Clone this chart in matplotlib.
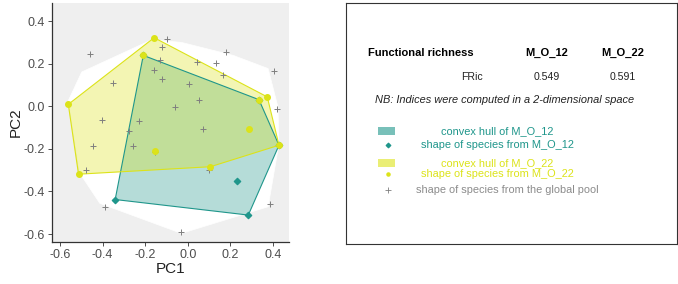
import numpy as np
import matplotlib.pyplot as plt
from matplotlib.patches import Polygon, Rectangle

plt.rcParams['font.family'] = ['Liberation Sans', 'DejaVu Sans']

# species of the global pool (crosses)
pool_x = [-0.459, -0.100, -0.120, 0.181, 0.403, 0.041, 0.131, -0.131, -0.158, -0.120,
          -0.350, 0.005, 0.163, 0.053, -0.059, 0.419, -0.402, -0.228, 0.069, -0.275,
          -0.444, -0.259, -0.480, -0.389, -0.033, 0.384, -0.155, 0.100]
pool_y = [0.247, 0.314, 0.278, 0.255, 0.166, 0.208, 0.205, 0.219, 0.172, 0.130,
          0.109, 0.103, 0.145, 0.028, -0.003, -0.011, -0.066, -0.070, -0.108, -0.116,
          -0.186, -0.186, -0.300, -0.472, -0.589, -0.459, -0.215, -0.300]

# hull of the global pool (white area)
pool_hull_x = [-0.170, -0.030, 0.213, 0.377, 0.423, 0.428, 0.377, -0.030, -0.413, -0.506, -0.560, -0.498]
pool_hull_y = [0.312, 0.300, 0.239, 0.177, -0.003, -0.175, -0.472, -0.597, -0.456, -0.316, 0.028, 0.161]

# assemblage M_O_12
m12_hull_x = [-0.209, 0.334, 0.428, 0.284, -0.341]
m12_hull_y = [0.239, 0.031, -0.183, -0.511, -0.438]
m12_x = [-0.209, 0.334, 0.428, 0.284, -0.341, 0.231]
m12_y = [0.239, 0.031, -0.183, -0.511, -0.438, -0.350]

# assemblage M_O_22
m22_hull_x = [-0.158, 0.373, 0.428, 0.106, -0.513, -0.561]
m22_hull_y = [0.322, 0.044, -0.183, -0.284, -0.319, 0.009]
m22_x = [-0.158, 0.373, 0.428, 0.106, -0.513, -0.561, -0.209, 0.334, 0.288, -0.155]
m22_y = [0.322, 0.044, -0.183, -0.284, -0.319, 0.009, 0.239, 0.031, -0.105, -0.209]

fric_names = ["M_O_12", "M_O_22"]
fric_values = ["0.549", "0.591"]

teal = "#1F968B"
yellow = "#DCE319"
grey_txt = "#4D4D4D"

fig = plt.figure(figsize=(6.78, 2.84), dpi=100)

# ---- convex hull plot ----
ax = fig.add_axes([52/678, (284-242)/284, (289-52)/678, (242-3)/284])
ax.set_facecolor("#EFEFEF")
ax.add_patch(Polygon(np.column_stack([pool_hull_x, pool_hull_y]), closed=True,
                     facecolor="white", edgecolor="white", lw=0.5, zorder=1))
ax.add_patch(Polygon(np.column_stack([m12_hull_x, m12_hull_y]), closed=True,
                     facecolor=teal, alpha=0.33, edgecolor="none", zorder=2))
ax.add_patch(Polygon(np.column_stack([m12_hull_x, m12_hull_y]), closed=True,
                     facecolor="none", edgecolor=teal, lw=0.8, zorder=3))
ax.add_patch(Polygon(np.column_stack([m22_hull_x, m22_hull_y]), closed=True,
                     facecolor=yellow, alpha=0.33, edgecolor="none", zorder=2))
ax.add_patch(Polygon(np.column_stack([m22_hull_x, m22_hull_y]), closed=True,
                     facecolor="none", edgecolor=yellow, lw=0.8, zorder=3))
ax.scatter(pool_x, pool_y, marker="+", s=18, color="#7F7F7F", linewidths=0.7, zorder=4)
ax.scatter(m12_x, m12_y, marker="D", s=10, color=teal, zorder=5)
ax.scatter(m22_x, m22_y, marker="o", s=16, color=yellow, zorder=6)

ax.set_xlim(-0.6375, 0.475)
ax.set_ylim(-0.6375, 0.485)
ax.set_xticks([-0.6, -0.4, -0.2, 0.0, 0.2, 0.4])
ax.set_yticks([-0.6, -0.4, -0.2, 0.0, 0.2, 0.4])
ax.set_xticklabels(["-0.6", "-0.4", "-0.2", "0.0", "0.2", "0.4"])
ax.set_yticklabels(["-0.6", "-0.4", "-0.2", "0.0", "0.2", "0.4"])
ax.tick_params(labelsize=9, labelcolor=grey_txt, color="#333333", length=3, width=0.6, pad=2)
for s in ["top", "right"]:
    ax.spines[s].set_visible(False)
for s in ["left", "bottom"]:
    ax.spines[s].set_color("#333333")
    ax.spines[s].set_linewidth(0.9)
ax.set_xlabel("PC1", fontsize=11, color="#222222", labelpad=1)
ax.set_ylabel("PC2", fontsize=11, color="#222222", labelpad=1)

# ---- results box ----
bx = fig.add_axes([346/678, (284-244)/284, (677-346)/678, (244-3)/284])
bx.set_xlim(346, 677)
bx.set_ylim(244, 3)
bx.set_xticks([])
bx.set_yticks([])
for s in bx.spines.values():
    s.set_color("#333333")
    s.set_linewidth(0.8)

bx.text(368, 53, "Functional richness", fontsize=8, fontweight="bold", va="center", ha="left")
bx.text(472, 77, "FRic", fontsize=7.6, va="center", ha="center", color="#222222")
for xc, name, val in zip([547, 623], fric_names, fric_values):
    bx.text(xc, 53, name, fontsize=8, fontweight="bold", va="center", ha="center")
    bx.text(xc, 77, val, fontsize=7.6, va="center", ha="center", color="#222222")
bx.text(505, 100, "NB: Indices were computed in a 2-dimensional space", fontsize=7.9,
        style="italic", va="center", ha="center", color="#222222")

bx.add_patch(Rectangle((378, 127), 17, 8, facecolor=teal, alpha=0.6, edgecolor="none"))
bx.text(497, 131, "convex hull of M_O_12", fontsize=7.9, color=teal, va="center", ha="center")
bx.scatter([388], [145], marker="D", s=5, color=teal)
bx.text(497, 145, "shape of species from M_O_12", fontsize=7.9, color=teal, va="center", ha="center")

bx.add_patch(Rectangle((378, 159), 17, 8, facecolor=yellow, alpha=0.6, edgecolor="none"))
bx.text(497, 163, "convex hull of M_O_22", fontsize=7.9, color=yellow, va="center", ha="center")
bx.scatter([388], [174], marker="o", s=5, color=yellow)
bx.text(497, 174, "shape of species from M_O_22", fontsize=7.9, color=yellow, va="center", ha="center")

bx.scatter([388], [190], marker="+", s=14, color="#7F7F7F", linewidths=0.6)
bx.text(507, 190, "shape of species from the global pool", fontsize=7.9, color="#8C8C8C",
        va="center", ha="center")

fig.savefig("out.png", dpi=100)
